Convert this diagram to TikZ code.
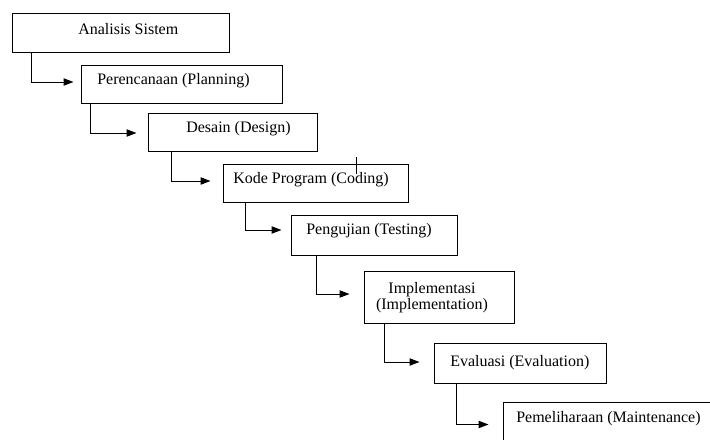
\documentclass[tikz,border=0pt]{standalone}
\usepackage{fontspec}
\setmainfont{Liberation Serif}
\usetikzlibrary{arrows.meta}
\usetikzlibrary{calc}
\usetikzlibrary{fit}

\tikzset{
  stage/.style={draw, line width=0.75, inner sep=0pt, rectangle},
  flow/.style={line width=0.75, -{Triangle[length=7.5pt,width=5.5pt]}},
  lbl/.style={anchor=base west, inner sep=0pt, font=\fontsize{12}{12}\selectfont}
}

\begin{document}
\begin{tikzpicture}[x=0.75pt,y=0.75pt,yscale=-1,xscale=1]
\useasboundingbox (0,0) rectangle (710,439);
\clip (0,0) rectangle (710,439);

%Shape: Rectangle
\node [stage, fit={(12,13) (229,52)}] (analisis) {};
%Shape: Rectangle
\node [stage, fit={(81,65) (282,103)}] (perencanaan) {};
%Shape: Rectangle
\node [stage, fit={(148,113) (317,151)}] (desain) {};
%Shape: Rectangle
\node [stage, fit={(223,164) (408,202)}] (kode) {};
%Shape: Rectangle
\node [stage, fit={(291,215) (457,255)}] (pengujian) {};
%Shape: Rectangle
\node [stage, fit={(364,271) (514,323)}] (implementasi) {};
%Shape: Rectangle
\node [stage, fit={(434,343) (606,383)}] (evaluasi) {};
%Shape: Rectangle
\node [stage, fit={(503,402) (722,450)}] (pemeliharaan) {};

%Straight Lines
\draw [flow] ($(analisis.south west)+(20,0)$) |- ($(perencanaan.west)+(-7,-2)$);
%Straight Lines
\draw [flow] ($(perencanaan.south west)+(10,0)$) |- ($(desain.west)+(-11,1)$);
%Straight Lines
\draw [flow] ($(desain.south west)+(24,0)$) |- ($(kode.west)+(-12,-2)$);
%Straight Lines
\draw [flow] ($(kode.south west)+(23,0)$) |- ($(pengujian.west)+(-9,-5)$);
%Straight Lines
\draw [flow] ($(pengujian.south west)+(26,0)$) |- ($(implementasi.west)+(-14,-3)$);
%Straight Lines
\draw [flow] ($(implementasi.south west)+(21,0)$) |- ($(evaluasi.west)+(-14,-1)$);
%Straight Lines
\draw [flow] ($(evaluasi.south west)+(23,0)$) |- ($(pemeliharaan.north west)+(-14,23)$);
%Straight Lines
\draw [line width=0.75] (356,157) -- (356,174);

% Text Node
\node [lbl] (tAnalisis) at (78,34) {Analisis Sistem};
% Text Node
\node [lbl] (tPerencanaan) at (97,84) {Perencanaan (Planning)};
% Text Node
\node [lbl] (tDesain) at (186,132) {Desain (Design)};
% Text Node
\node [lbl] (tKode) at (233,183) {Kode Program (Coding)};
% Text Node
\node [lbl] (tPengujian) at (306,234) {Pengujian (Testing)};
% Text Node
\node [align=center, inner sep=0pt, font=\fontsize{12}{12}\selectfont] (tImplementasi) at (432,298) {Implementasi\\(Implementation)};
% Text Node
\node [lbl] (tEvaluasi) at (450,366) {Evaluasi (Evaluation)};
% Text Node
\node [lbl] (tPemeliharaan) at (516,422) {Pemeliharaan (Maintenance)};

\end{tikzpicture}
\end{document}
